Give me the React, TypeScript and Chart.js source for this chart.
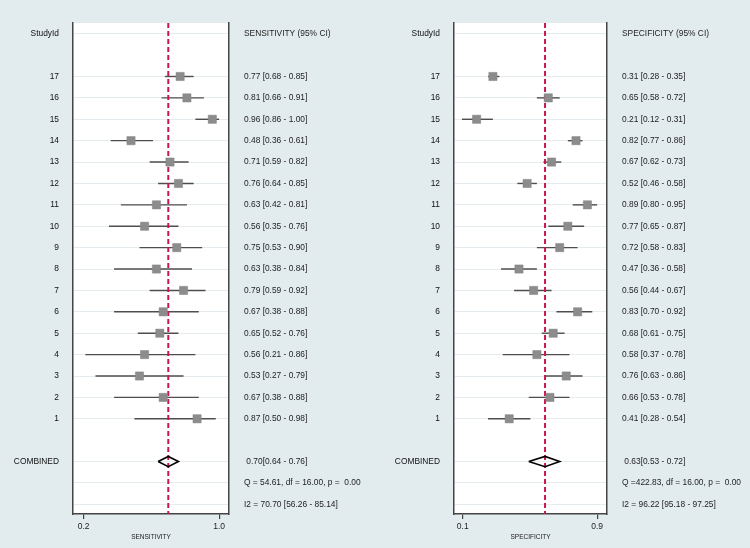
import React, { useEffect, useRef } from "react";
import { Chart, registerables } from "chart.js";
Chart.register(...registerables);

// ---------- data ----------
const studyIds = ["17", "16", "15", "14", "13", "12", "11", "10", "9", "8", "7", "6", "5", "4", "3", "2", "1"];

const sensEst = [0.77, 0.81, 0.96, 0.48, 0.71, 0.76, 0.63, 0.56, 0.75, 0.63, 0.79, 0.67, 0.65, 0.56, 0.53, 0.67, 0.87];
const sensLo = [0.68, 0.66, 0.86, 0.36, 0.59, 0.64, 0.42, 0.35, 0.53, 0.38, 0.59, 0.38, 0.52, 0.21, 0.27, 0.38, 0.50];
const sensHi = [0.85, 0.91, 1.00, 0.61, 0.82, 0.85, 0.81, 0.76, 0.90, 0.84, 0.92, 0.88, 0.76, 0.86, 0.79, 0.88, 0.98];
const sensCombined = [0.70, 0.64, 0.76];
const sensStats = ["Q = 54.61, df = 16.00, p =  0.00", "I2 = 70.70 [56.26 - 85.14]"];
const sensTickValues = [0.2, 1.0];
const sensTickLabels = ["0.2", "1.0"];

const specEst = [0.31, 0.65, 0.21, 0.82, 0.67, 0.52, 0.89, 0.77, 0.72, 0.47, 0.56, 0.83, 0.68, 0.58, 0.76, 0.66, 0.41];
const specLo = [0.28, 0.58, 0.12, 0.77, 0.62, 0.46, 0.80, 0.65, 0.58, 0.36, 0.44, 0.70, 0.61, 0.37, 0.63, 0.53, 0.28];
const specHi = [0.35, 0.72, 0.31, 0.86, 0.73, 0.58, 0.95, 0.87, 0.83, 0.58, 0.67, 0.92, 0.75, 0.78, 0.86, 0.78, 0.54];
const specCombined = [0.63, 0.53, 0.72];
const specStats = ["Q =422.83, df = 16.00, p =  0.00", "I2 = 96.22 [95.18 - 97.25]"];
const specTickValues = [0.125, 0.95];
const specTickLabels = ["0.1", "0.9"];

// row indices
const HEADER_ROW = 0;
const FIRST_STUDY_ROW = 2;
const COMBINED_ROW = 20;
const Q_ROW = 21;
const I2_ROW = 22;
const Y_MIN = -0.5;
const Y_MAX = 22.45;

const FONT = "'Liberation Sans', Arial, Helvetica, sans-serif";
const fmt = (v: number) => v.toFixed(2);

type PanelProps = {
  header: string;
  axisTitle: string;
  est: number[];
  lo: number[];
  hi: number[];
  combined: number[];
  stats: string[];
  tickValues: number[];
  tickLabels: string[];
  xMin: number;
  xMax: number;
  leftWidth: number;
  rightWidth: number;
};

function buildRightLabels(p: PanelProps): Record<number, string> {
  const m: Record<number, string> = {};
  m[HEADER_ROW] = p.header;
  p.est.forEach((e, i) => {
    m[FIRST_STUDY_ROW + i] = `${fmt(e)} [${fmt(p.lo[i])} - ${fmt(p.hi[i])}]`;
  });
  m[COMBINED_ROW] = ` ${fmt(p.combined[0])}[${fmt(p.combined[1])} - ${fmt(p.combined[2])}]`;
  m[Q_ROW] = p.stats[0];
  m[I2_ROW] = p.stats[1];
  return m;
}

function buildLeftLabels(): Record<number, string> {
  const m: Record<number, string> = {};
  m[HEADER_ROW] = "StudyId";
  studyIds.forEach((s, i) => (m[FIRST_STUDY_ROW + i] = s));
  m[COMBINED_ROW] = "COMBINED";
  m[Q_ROW] = "";
  m[I2_ROW] = "";
  return m;
}

const rowTicks = () => {
  const t = [HEADER_ROW];
  studyIds.forEach((_, i) => t.push(FIRST_STUDY_ROW + i));
  t.push(COMBINED_ROW, Q_ROW, I2_ROW);
  return t.map((v) => ({ value: v }));
};

const chartAreaBg = {
  id: "chartAreaBg",
  beforeDraw(chart: any) {
    const { ctx, chartArea } = chart;
    ctx.save();
    ctx.fillStyle = "#ffffff";
    ctx.fillRect(chartArea.left, chartArea.top, chartArea.right - chartArea.left, chartArea.bottom - chartArea.top);
    ctx.restore();
  },
};

function Panel(p: PanelProps) {
  const ref = useRef<HTMLCanvasElement | null>(null);
  useEffect(() => {
    if (!ref.current) return;
    const leftLabels = buildLeftLabels();
    const rightLabels = buildRightLabels(p);
    const diamondHalf = 0.24;

    const datasets: any[] = [];
    // red reference line at pooled estimate
    datasets.push({
      data: [
        { x: p.combined[0], y: Y_MIN },
        { x: p.combined[0], y: Y_MAX },
      ],
      showLine: true,
      borderColor: "#c8184a",
      borderWidth: 2,
      borderDash: [5, 3],
      pointRadius: 0,
      order: 4,
    });
    // CI lines
    p.est.forEach((_, i) => {
      datasets.push({
        data: [
          { x: p.lo[i], y: FIRST_STUDY_ROW + i },
          { x: p.hi[i], y: FIRST_STUDY_ROW + i },
        ],
        showLine: true,
        borderColor: "#4e4e4e",
        borderWidth: 1.4,
        pointRadius: 0,
        order: 5,
      });
    });
    // squares
    datasets.push({
      data: p.est.map((e, i) => ({ x: e, y: FIRST_STUDY_ROW + i })),
      showLine: false,
      pointStyle: "rect",
      pointRadius: 5.8,
      backgroundColor: "#8c8c8c",
      borderColor: "#838383",
      borderWidth: 0.5,
      order: 1,
    });
    // diamond
    datasets.push({
      data: [
        { x: p.combined[1], y: COMBINED_ROW },
        { x: p.combined[0], y: COMBINED_ROW - diamondHalf },
        { x: p.combined[2], y: COMBINED_ROW },
        { x: p.combined[0], y: COMBINED_ROW + diamondHalf },
        { x: p.combined[1], y: COMBINED_ROW },
      ],
      showLine: true,
      fill: false,
      borderColor: "#000000",
      borderWidth: 1.6,
      pointRadius: 0,
      order: 2,
    });

    const chart = new Chart(ref.current, {
      type: "scatter",
      data: { datasets },
      plugins: [chartAreaBg],
      options: {
        responsive: false,
        animation: false,
        devicePixelRatio: 1,
        layout: { padding: { top: 23, left: 0, right: 0, bottom: 0 } },
        plugins: { legend: { display: false }, tooltip: { enabled: false } },
        scales: {
          x: {
            type: "linear",
            position: "bottom",
            min: p.xMin,
            max: p.xMax,
            afterBuildTicks: (s: any) => {
              s.ticks = p.tickValues.map((v) => ({ value: v }));
            },
            afterFit: (s: any) => {
              s.height = 34;
            },
            ticks: {
              autoSkip: false,
              maxRotation: 0,
              padding: 3,
              color: "#1e1e1e",
              font: { family: FONT, size: 8.5 },
              callback: (_v: any, i: number) => p.tickLabels[i],
            },
            grid: { drawOnChartArea: false, drawTicks: true, tickLength: 5, color: "#444", lineWidth: 1.2 },
            border: { display: true, color: "#444", width: 1.5 },
            title: {
              display: true,
              text: p.axisTitle,
              color: "#222",
              font: { family: FONT, size: 6.5 },
              padding: { top: 0, bottom: 7 },
            },
          },
          y: {
            type: "linear",
            position: "left",
            min: Y_MIN,
            max: Y_MAX,
            reverse: true,
            afterBuildTicks: (s: any) => {
              s.ticks = rowTicks();
            },
            afterFit: (s: any) => {
              s.width = p.leftWidth;
            },
            ticks: {
              autoSkip: false,
              padding: 14,
              color: "#111",
              font: { family: FONT, size: 8.4 },
              callback: (v: any) => leftLabels[v as number] ?? "",
            },
            grid: { drawTicks: false, color: "#e4ecef", lineWidth: 1 },
            border: { display: true, color: "#444", width: 1.5 },
          },
          y2: {
            type: "linear",
            position: "right",
            display: true,
            min: Y_MIN,
            max: Y_MAX,
            reverse: true,
            afterBuildTicks: (s: any) => {
              s.ticks = rowTicks();
            },
            afterFit: (s: any) => {
              s.width = p.rightWidth;
            },
            ticks: {
              autoSkip: false,
              padding: 15,
              color: "#1e1e1e",
              font: { family: FONT, size: 8.4 },
              callback: (v: any) => rightLabels[v as number] ?? "",
            },
            grid: { drawOnChartArea: false, drawTicks: false },
            border: { display: true, color: "#444", width: 1.5 },
          },
        },
      } as any,
    });
    return () => chart.destroy();
  }, []);
  return <canvas ref={ref} width={375} height={548} style={{ display: "block", width: 375, height: 548 }} />;
}

export default function App() {
  return (
    <div
      style={{
        position: "absolute",
        left: 0,
        top: 0,
        width: 750,
        height: 548,
        background: "#e2ebee",
        display: "flex",
      }}
    >
      <Panel
        header="SENSITIVITY (95% CI)"
        axisTitle="SENSITIVITY"
        est={sensEst}
        lo={sensLo}
        hi={sensHi}
        combined={sensCombined}
        stats={sensStats}
        tickValues={sensTickValues}
        tickLabels={sensTickLabels}
        xMin={0.1375}
        xMax={1.0584}
        leftWidth={73}
        rightWidth={146}
      />
      <Panel
        header="SPECIFICITY (95% CI)"
        axisTitle="SPECIFICITY"
        est={specEst}
        lo={specLo}
        hi={specHi}
        combined={specCombined}
        stats={specStats}
        tickValues={specTickValues}
        tickLabels={specTickLabels}
        xMin={0.0711}
        xMax={1.0104}
        leftWidth={79}
        rightWidth={143}
      />
    </div>
  );
}
